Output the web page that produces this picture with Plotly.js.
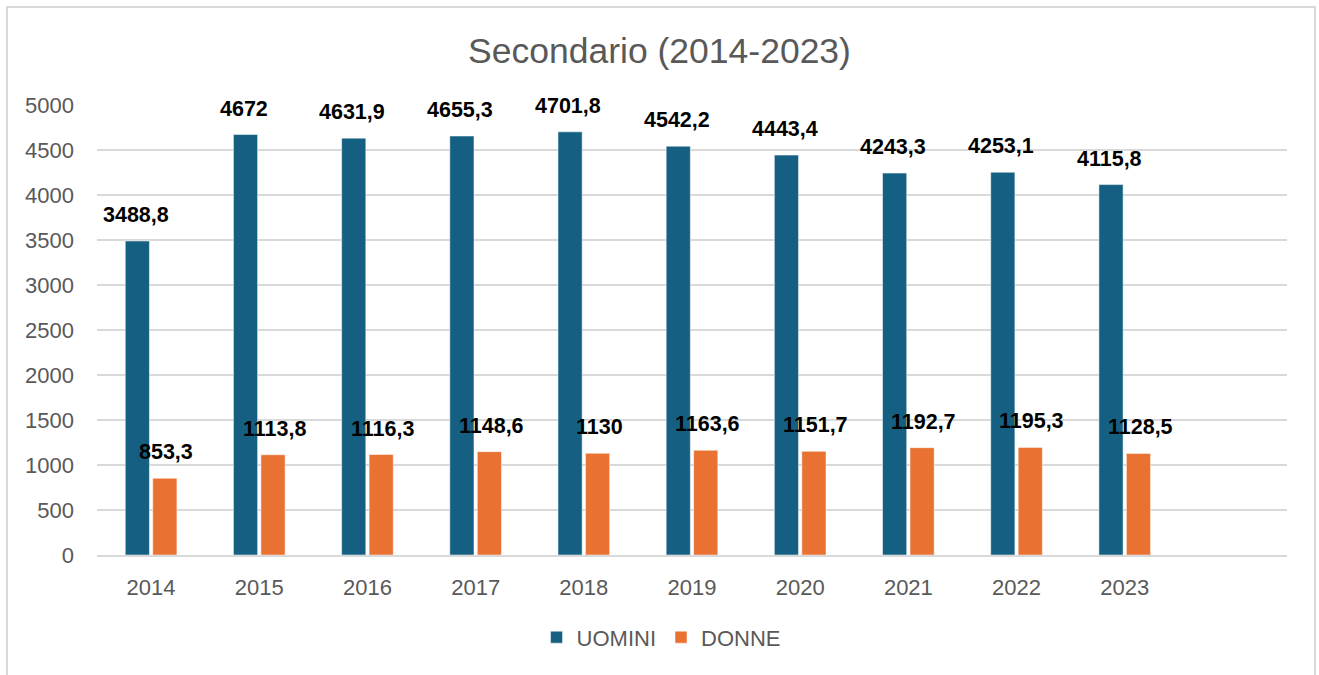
<!DOCTYPE html>
<html>
<head>
<meta charset="utf-8">
<script src="https://cdn.plot.ly/plotly-3.0.1.min.js"></script>
<style>
  html, body { margin: 0; padding: 0; background: #ffffff; }
  #wrap { position: relative; width: 1319px; height: 675px; overflow: hidden; }
  #chart { position: absolute; left: 0; top: 0; width: 1319px; height: 675px; }
  #frame { position: absolute; left: 6px; top: 6px; width: 1310px; height: 680px;
           border: 2px solid #d9d9d9; box-sizing: border-box; pointer-events: none; }
</style>
</head>
<body>
<div id="wrap">
  <div id="chart"></div>
  <div id="frame"></div>
</div>
<script>
// Data
const years = ['2014', '2015', '2016', '2017', '2018', '2019', '2020', '2021', '2022', '2023', ' '];
const uomini = [3488.8, 4672, 4631.9, 4655.3, 4701.8, 4542.2, 4443.4, 4243.3, 4253.1, 4115.8, null];
const donne  = [853.3, 1113.8, 1116.3, 1148.6, 1130, 1163.6, 1151.7, 1192.7, 1195.3, 1128.5, null];
const yTicks = [0, 500, 1000, 1500, 2000, 2500, 3000, 3500, 4000, 4500, 5000];

const fmt = v => String(v).replace('.', ',');
const FONT = 'Liberation Sans, Arial, sans-serif';

const traces = [
  { type: 'bar', name: 'UOMINI', x: years, y: uomini,
    marker: { color: '#156082', line: { color: '#ffffff', width: 0.5 } }, hoverinfo: 'x+y' },
  { type: 'bar', name: 'DONNE', x: years, y: donne,
    marker: { color: '#E97132', line: { color: '#ffffff', width: 0.5 } }, hoverinfo: 'x+y' }
];

const annotations = [];
const labelFont = { family: FONT, size: 21.5, color: '#000000' };
[[uomini, -15.4], [donne, 15.4]].forEach(([series, dx]) => {
  series.forEach((v, i) => {
    if (v === null) return;
    annotations.push({
      x: i, y: v, xref: 'x', yref: 'y',
      text: '<b>' + fmt(v) + '</b>', showarrow: false,
      xshift: dx, yshift: 26, yanchor: 'middle', xanchor: 'center',
      font: labelFont
    });
  });
});

const layout = {
  width: 1319, height: 675,
  margin: { l: 97, r: 32, t: 105, b: 120 },
  paper_bgcolor: '#ffffff', plot_bgcolor: '#ffffff',
  title: { text: 'Secondario (2014-2023)', x: 0.5, xanchor: 'center', y: 0.925, yanchor: 'middle',
           font: { family: FONT, size: 35.5, color: '#595959' } },
  barmode: 'group', bargap: 0.492, bargroupgap: 0.12,
  xaxis: { type: 'category', range: [-0.5, 10.5], showgrid: false, zeroline: false,
           showline: true, linecolor: '#d9d9d9', linewidth: 1.5, ticks: '',
           tickfont: { family: FONT, size: 22, color: '#595959' },
           ticklabelstandoff: 12 },
  yaxis: { range: [0, 5000], tickvals: yTicks, ticktext: yTicks.map(String),
           showgrid: true, gridcolor: '#d9d9d9', gridwidth: 1.5, zeroline: false,
           showline: false, ticks: '',
           tickfont: { family: FONT, size: 22, color: '#595959' },
           ticklabelstandoff: 22 },
  showlegend: true,
  legend: { orientation: 'h', x: 0.474, xanchor: 'center', y: -0.183, yanchor: 'middle',
            font: { family: FONT, size: 22, color: '#595959' },
            itemwidth: 30, tracegroupgap: 0 },
  annotations: annotations
};

Plotly.newPlot('chart', traces, layout, { displayModeBar: false, staticPlot: true });
</script>
</body>
</html>
